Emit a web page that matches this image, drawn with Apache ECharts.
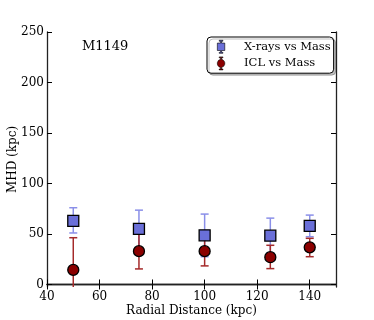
<!DOCTYPE html>
<html><head><meta charset="utf-8">
<script src="https://cdn.jsdelivr.net/npm/echarts@6/dist/echarts.min.js"></script>
<style>html,body{margin:0;padding:0;background:#fff}#c{width:374px;height:320px}</style>
</head><body><div id="c"></div>
<script>
const radii = [50, 75, 100, 125, 140];
const xrayVal = [63, 55, 48.7, 48.3, 58];
const xrayLow = [51, 36, 27.5, 31, 47.3];
const xrayHigh = [76, 73.6, 69.7, 65.7, 68.7];
const iclVal = [14.4, 33, 33, 27, 36.8];
const iclLow = [-20, 15.4, 18.4, 15.7, 27.5];
const iclHigh = [46.3, 50, 47, 38.8, 45.7];
const xTicks = [40, 60, 80, 100, 120, 140];
const yTicks = [0, 50, 100, 150, 200, 250];
const title = 'M1149';

const FONT = 'DejaVu Serif';
const chart = echarts.init(document.getElementById('c'), null, {renderer:'canvas'});

function errData(lo, hi){ return radii.map((r,i)=>[r, lo[i], hi[i]]); }
function errSeries(lo, hi, color){
  return {
    type:'custom', data: errData(lo,hi), clip:true, z:2,
    renderItem(params, api){
      const x = api.value(0);
      const p1 = api.coord([x, api.value(1)]);
      const p2 = api.coord([x, api.value(2)]);
      const w = 4;
      const st = {stroke: color, lineWidth: 1.5};
      return {type:'group', children:[
        {type:'line', shape:{x1:p1[0],y1:p1[1],x2:p2[0],y2:p2[1]}, style:st},
        {type:'line', shape:{x1:p1[0]-w,y1:p1[1],x2:p1[0]+w,y2:p1[1]}, style:st},
        {type:'line', shape:{x1:p2[0]-w,y1:p2[1],x2:p2[0]+w,y2:p2[1]}, style:st}
      ]};
    }
  };
}

const axisCommon = {
  axisLine:{show:true, lineStyle:{color:'#222', width:1.3}},
  splitLine:{show:false},
};
const sqIcon = 'path://M4,0 L8,0 L8,1 L6.5,1 L6.5,3 L10,3 L10,11 L6.5,11 L6.5,13 L8,13 L8,14 L4,14 L4,13 L5.5,13 L5.5,11 L2,11 L2,3 L5.5,3 L5.5,1 L4,1 Z';
const ciIcon = 'path://M4,0 L8,0 L8,1 L6.5,1 L6.5,2.6 A4.5,4.5 0 0 1 6.5,11.4 L6.5,13 L8,13 L8,14 L4,14 L4,13 L5.5,13 L5.5,11.4 A4.5,4.5 0 0 1 5.5,2.6 L5.5,1 L4,1 Z';

chart.setOption({
  animation:false,
  grid:{left:47, right:38, top:32, bottom:33, outerBoundsMode:'none', containLabel:false},
  xAxis:[{
    type:'value', min:40, max:150, position:'bottom',
    ...axisCommon,
    axisTick:{show:true, inside:true, length:5, customValues:xTicks, lineStyle:{color:'#000'}},
    axisLabel:{customValues:xTicks, color:'#000', fontFamily:FONT, fontSize:12, margin:4},
    name:'Radial Distance (kpc)', nameLocation:'middle', nameGap:18, nameMoveOverlap:false,
    nameTextStyle:{color:'#000', fontFamily:FONT, fontSize:12, verticalAlign:'top'}
  },{
    type:'value', min:40, max:150, position:'top',
    ...axisCommon,
    axisTick:{show:true, inside:true, length:5, customValues:xTicks, lineStyle:{color:'#000'}},
    axisLabel:{show:false}
  }],
  yAxis:[{
    type:'value', min:-2.5, max:250, position:'left',
    ...axisCommon,
    axisTick:{show:true, inside:true, length:5, customValues:yTicks, lineStyle:{color:'#000'}},
    axisLabel:{customValues:yTicks, color:'#000', fontFamily:FONT, fontSize:12, margin:3},
    name:'MHD (kpc)', nameLocation:'middle', nameGap:28, nameRotate:90, nameMoveOverlap:false,
    nameTextStyle:{color:'#000', fontFamily:FONT, fontSize:12, verticalAlign:'bottom'}
  },{
    type:'value', min:-2.5, max:250, position:'right',
    ...axisCommon,
    axisTick:{show:true, inside:true, length:5, customValues:yTicks, lineStyle:{color:'#000'}},
    axisLabel:{show:false}
  }],
  legend:{
    left:207, top:37, orient:'vertical', itemGap:3, padding:[3,3,3,10],
    borderColor:'#000', borderWidth:1, borderRadius:4, backgroundColor:'#fff',
    shadowColor:'rgba(0,0,0,0.25)', shadowOffsetX:2, shadowOffsetY:2, shadowBlur:0,
    itemWidth:10, itemHeight:13,
    textStyle:{fontFamily:FONT, fontSize:11.5, color:'#000', padding:[0,0,0,13]},
    data:[
      {name:'X-rays vs Mass', icon:sqIcon, itemStyle:{color:'#6a6fd8', borderColor:'#000', borderWidth:0.6}},
      {name:'ICL vs Mass', icon:ciIcon, itemStyle:{color:'#8b0000', borderColor:'#000', borderWidth:0.6}}
    ]
  },
  graphic:[{
    type:'text', left:82, top:40,
    style:{text:title, font:'13px "DejaVu Serif"', fill:'#000'}
  }],
  series:[
    Object.assign(errSeries(xrayLow, xrayHigh, '#8a8fe8'), {name:'X-rays vs Mass', itemStyle:{color:'#6a6fd8'}}),
    {
      name:'X-rays vs Mass', type:'scatter', symbol:'rect', symbolSize:11, z:3,
      data: radii.map((r,i)=>[r, xrayVal[i]]),
      itemStyle:{color:'#6a6fd8', borderColor:'#000', borderWidth:1.3, opacity:1}
    },
    Object.assign(errSeries(iclLow, iclHigh, '#a52a2a'), {name:'ICL vs Mass', itemStyle:{color:'#8b0000'}}),
    {
      name:'ICL vs Mass', type:'scatter', symbol:'circle', symbolSize:11, z:4,
      data: radii.map((r,i)=>[r, iclVal[i]]),
      itemStyle:{color:'#8b0000', borderColor:'#000', borderWidth:1.3, opacity:1}
    }
  ]
});
</script></body></html>
